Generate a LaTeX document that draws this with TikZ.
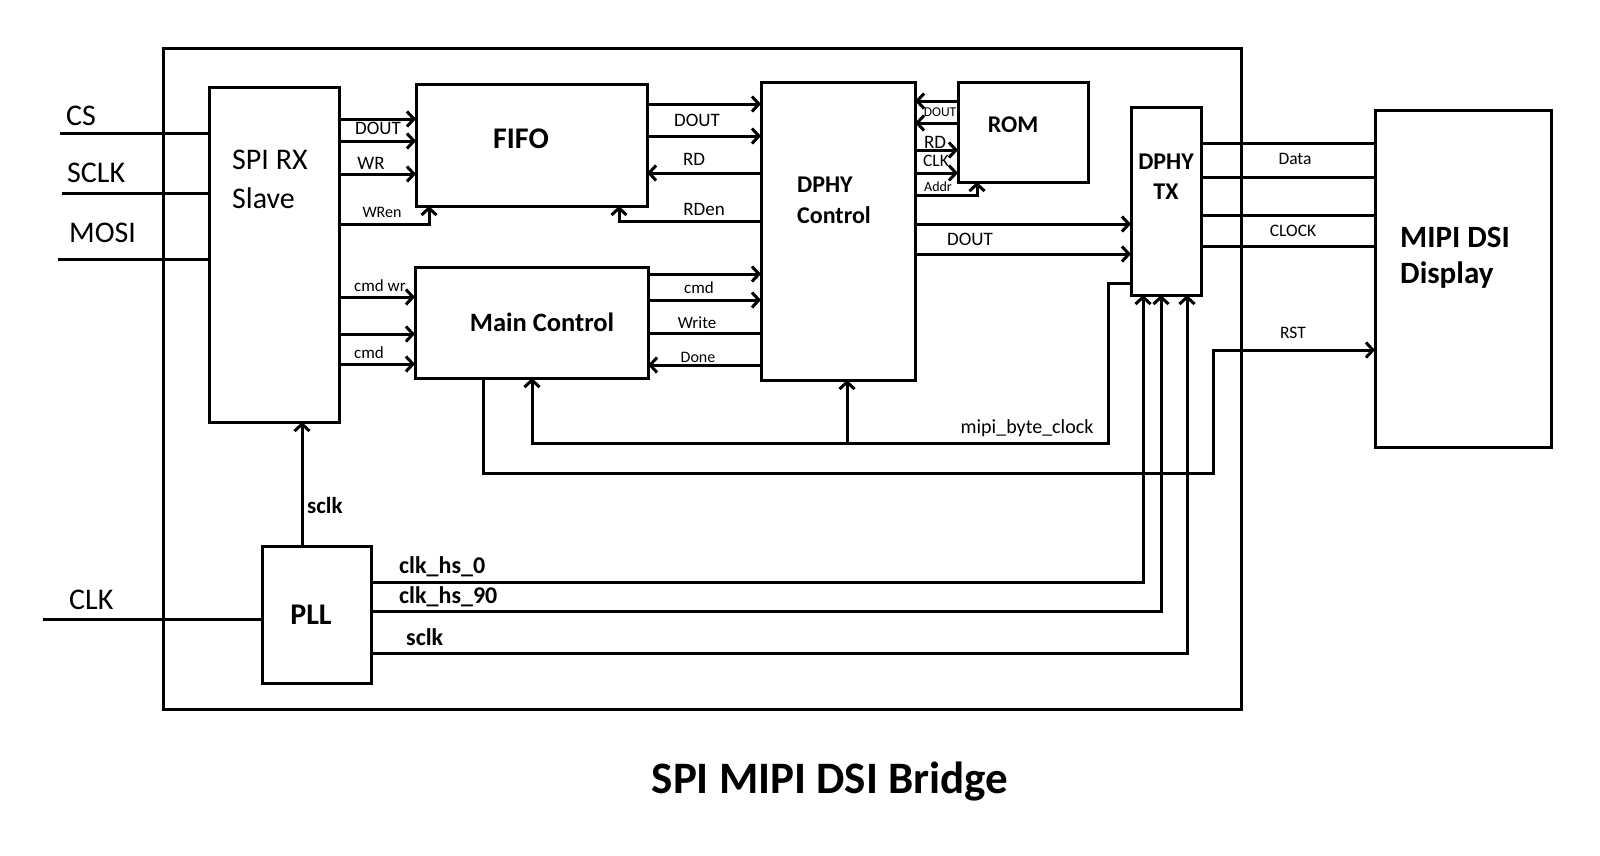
\documentclass[tikz,border=0pt]{standalone}
\usepackage{fontspec}
\setmainfont{Carlito}
\usetikzlibrary{arrows.meta,calc}
\newcommand\myfs[1]{\fontsize{#1}{#1}\selectfont}
\begin{document}
\begin{tikzpicture}[x=1pt,y=-1pt,
  box/.style={draw, line width=3pt, inner sep=0pt, outer sep=0pt, anchor=north west},
  wire/.style={line width=3pt},
  arr/.style={line width=3pt, -{Straight Barb[length=7pt,width=15pt]}},
  lbl/.style={inner sep=0pt, font=\myfs{#1}},
  blbl/.style={inner sep=0pt, font=\bfseries\myfs{#1}}
]
\useasboundingbox (0,0) rectangle (1600,855);
\fill[white] (0,0) rectangle (1600,855);

% boxes
\node[box, minimum width=1078pt, minimum height=661pt] (frame) at (163,48) {};
\node[box, minimum width=130pt, minimum height=335pt] (spi) at (209,87) {};
\node[box, minimum width=231pt, minimum height=122pt] (fifo) at (416,84) {};
\node[box, minimum width=233pt, minimum height=111pt] (main) at (415,267) {};
\node[box, minimum width=154pt, minimum height=298pt] (dphy) at (761,82) {};
\node[box, minimum width=130pt, minimum height=100pt] (rom) at (958,82) {};
\node[box, minimum width=70pt, minimum height=188pt] (tx) at (1131,107) {};
\node[box, minimum width=176pt, minimum height=337pt] (disp) at (1375,110) {};
\node[box, minimum width=109pt, minimum height=137pt] (pll) at (262,546) {};

% free ends
\coordinate (csin) at (60,133);
\coordinate (sclkin) at (62,193);
\coordinate (mosiin) at (58,259);
\coordinate (clkin) at (43,619);

% inputs
\draw[wire] (csin) -- (spi.west |- csin);
\draw[wire] (sclkin) -- (spi.west |- sclkin);
\draw[wire] (mosiin) -- (spi.west |- mosiin);
\draw[wire] (clkin) -- (pll.west |- clkin);

% SPI -> FIFO
\draw[arr] (spi.east |- 0,119) -- (fifo.west |- 0,119);
\draw[arr] (spi.east |- 0,141) -- (fifo.west |- 0,141);
\draw[arr] (spi.east |- 0,174) -- (fifo.west |- 0,174);
\draw[arr] (spi.east |- 0,224) -- (429,224) -- (fifo.south -| 429,0);
% SPI -> Main
\draw[arr] (spi.east |- 0,297) -- (main.west |- 0,297);
\draw[arr] (spi.east |- 0,334) -- (main.west |- 0,334);
\draw[arr] (spi.east |- 0,364) -- (main.west |- 0,364);

% FIFO <-> DPHY
\draw[arr] (fifo.east |- 0,104) -- (dphy.west |- 0,104);
\draw[arr] (fifo.east |- 0,136) -- (dphy.west |- 0,136);
\draw[arr] (dphy.west |- 0,173) -- (fifo.east |- 0,173);
\draw[arr] (dphy.west |- 0,221) -- (619,221) -- (fifo.south -| 619,0);

% Main <-> DPHY
\draw[arr] (main.east |- 0,274) -- (dphy.west |- 0,274);
\draw[arr] (main.east |- 0,300) -- (dphy.west |- 0,300);
\draw[wire] (main.east |- 0,333) -- (dphy.west |- 0,333);
\draw[arr] (dphy.west |- 0,365) -- (main.east |- 0,365);

% ROM <-> DPHY
\draw[arr] (rom.west |- 0,101) -- (dphy.east |- 0,101);
\draw[arr] (rom.west |- 0,123) -- (dphy.east |- 0,123);
\draw[arr] (dphy.east |- 0,150) -- (rom.west |- 0,150);
\draw[arr] (dphy.east |- 0,173) -- (rom.west |- 0,173);
\draw[arr] (dphy.east |- 0,195) -- (977,195) -- (rom.south -| 977,0);

% DPHY -> TX
\draw[arr] (dphy.east |- 0,224) -- (tx.west |- 0,224);
\draw[arr] (dphy.east |- 0,254) -- (tx.west |- 0,254);

% TX -> Display
\draw[wire] (tx.east |- 0,143) -- (disp.west |- 0,143);
\draw[wire] (tx.east |- 0,177) -- (disp.west |- 0,177);
\draw[wire] (tx.east |- 0,215) -- (disp.west |- 0,215);
\draw[wire] (tx.east |- 0,246) -- (disp.west |- 0,246);

% mipi_byte_clock
\draw[arr] (tx.west |- 0,283) -- (1108,283) -- (1108,443) -- (532,443) -- (main.south -| 532,0);
\draw[arr] (847,443) -- (dphy.south -| 847,0);

% RST
\draw[arr] (main.south -| 483,0) -- (483,473) -- (1213,473) -- (1213,350) -- (disp.west |- 0,350);

% PLL outputs
\draw[arr] (pll.north -| 302,0) -- (spi.south -| 302,0);
\draw[arr] (pll.east |- 0,582) -- (1143,582) -- (tx.south -| 1143,0);
\draw[arr] (pll.east |- 0,611) -- (1161,611) -- (tx.south -| 1161,0);
\draw[arr] (pll.east |- 0,653) -- (1187,653) -- (tx.south -| 1187,0);

% labels
\node[lbl=30, anchor=west] (lcs) at (66,116) {CS};
\node[lbl=30, anchor=west] (lsclk) at (67,173) {SCLK};
\node[lbl=30, anchor=west] (lmosi) at (69,233) {MOSI};
\node[lbl=30, anchor=west] (lclk) at (69,600) {CLK};
\node[lbl=30, anchor=west] (lspi1) at (232,160) {SPI RX};
\node[lbl=30, anchor=west] (lspi2) at (232,198) {Slave};

\node[lbl=19] (l1) at (378,128) {DOUT};
\node[lbl=19] (l2) at (371,163) {WR};
\node[lbl=16] (l3) at (382,212) {WRen};
\node[lbl=17] (l4) at (380,286) {cmd wr};
\node[lbl=17] (l5) at (369,353) {cmd};

\node[lbl=19] (l6) at (697,120) {DOUT};
\node[lbl=19] (l7) at (694,159) {RD};
\node[lbl=19] (l8) at (704,209) {RDen};
\node[lbl=17] (l9) at (699,288) {cmd};
\node[lbl=17] (l10) at (697,323) {Write};
\node[lbl=16] (l11) at (698,357) {Done};

\node[lbl=13.5] (l12) at (940,112) {DOUT};
\node[lbl=19] (l13) at (935,142) {RD};
\node[lbl=17.5] (l14) at (936,161) {CLK};
\node[lbl=14] (l15) at (938,187) {Addr};
\node[lbl=19] (l16) at (970,239) {DOUT};

\node[lbl=17.5] (l17) at (1295,159) {Data};
\node[lbl=17.5] (l18) at (1293,231) {CLOCK};
\node[lbl=17.5] (l19) at (1293,333) {RST};
\node[lbl=20] (l20) at (1027,428) {mipi\_byte\_clock};

\node[blbl=30] (tfifo) at (521,139) {FIFO};
\node[blbl=26.5] (tmain) at (542,322) {Main Control};
\node[blbl=24, anchor=west] (tdphy1) at (797,185) {DPHY};
\node[blbl=24, anchor=west] (tdphy2) at (797,215) {Control};
\node[blbl=24] (trom) at (1013,125) {ROM};
\node[blbl=24] (ttx1) at (1166,162) {DPHY};
\node[blbl=24] (ttx2) at (1166,192) {TX};
\node[blbl=31, anchor=west] (tdisp1) at (1400,237) {MIPI DSI};
\node[blbl=31, anchor=west] (tdisp2) at (1400,275) {Display};
\node[blbl=30] (tpll) at (311,615) {PLL};

\node[blbl=23, anchor=west] (ls1) at (307,506) {sclk};
\node[blbl=24, anchor=west] (ls2) at (399,567) {clk\_hs\_0};
\node[blbl=24, anchor=west] (ls3) at (399,597) {clk\_hs\_90};
\node[blbl=24, anchor=west] (ls4) at (406,637) {sclk};

\node[blbl=45, anchor=base] (title) at (830,793) {SPI MIPI DSI Bridge};
\end{tikzpicture}
\end{document}
